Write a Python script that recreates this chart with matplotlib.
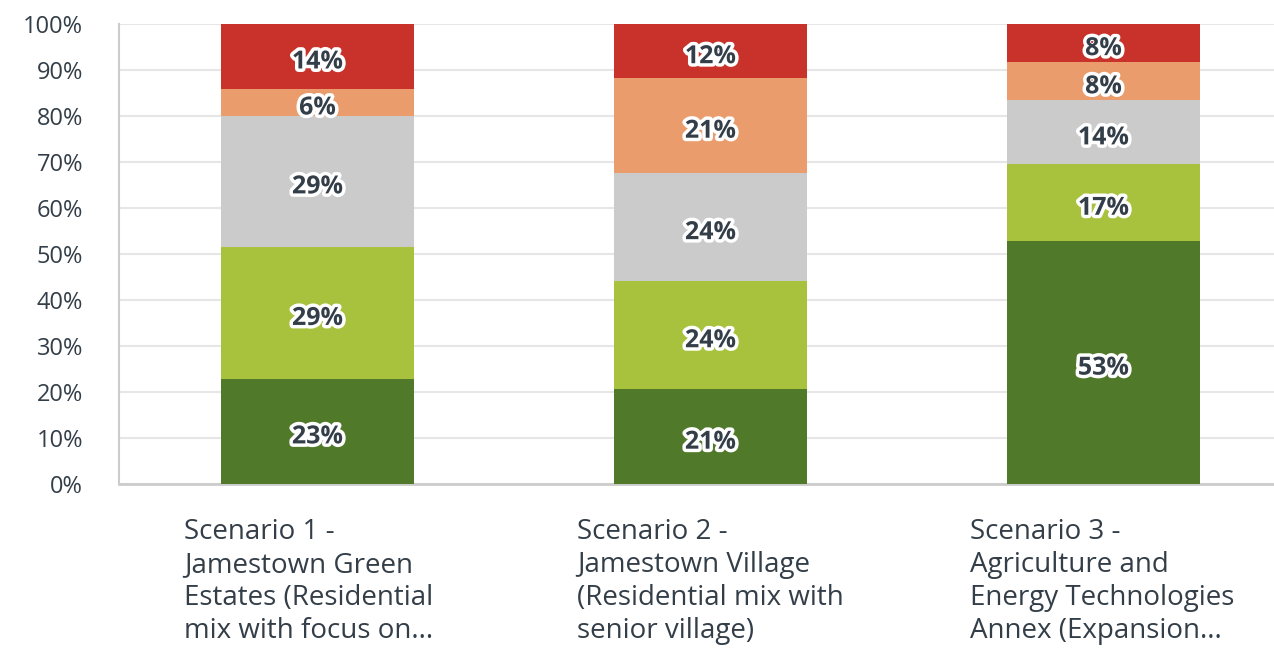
import numpy as np
import matplotlib.pyplot as plt
import matplotlib.patheffects as pe

# share of answers per scenario (bottom -> top segment), in %
scenarios = ['Scenario 1 -\nJamestown Green\nEstates (Residential\nmix with focus on...',
             'Scenario 2 -\nJamestown Village\n(Residential mix with\nsenior village)',
             'Scenario 3 -\nAgriculture and\nEnergy Technologies\nAnnex (Expansion...']
dark_green = [22.9, 20.6, 52.8]
light_green = [28.6, 23.5, 16.7]
grey = [28.6, 23.5, 13.9]
orange = [5.7, 20.6, 8.3]
red = [14.3, 11.8, 8.3]
labels = [['23%', '29%', '29%', '6%', '14%'],
          ['21%', '24%', '24%', '21%', '12%'],
          ['53%', '17%', '14%', '8%', '8%']]

series = [dark_green, light_green, grey, orange, red]
colors = ['#507a2a', '#a8c23d', '#cbcbcb', '#ea9c6c', '#c8322b']
txt = '#333e48'

fig = plt.figure(figsize=(12.74, 6.48), dpi=100)
ax = fig.add_axes([0.0934, 0.253, 0.9066, 0.7099])

x = np.arange(len(scenarios))
bottom = np.zeros(len(scenarios))
for i, (vals, c) in enumerate(zip(series, colors)):
    vals = np.array(vals)
    ax.bar(x, vals, 0.49, bottom=bottom, color=c, zorder=3)
    for j in range(len(x)):
        ax.text(x[j], bottom[j] + vals[j] / 2 - 1.2, labels[j][i], ha='center', va='center',
                fontsize=18, fontweight='bold', color=txt, family='Open Sans', zorder=5,
                path_effects=[pe.withStroke(linewidth=5, foreground='white')])
    bottom += vals

ax.set_xlim(-0.505, 2.434)
ax.set_ylim(0, 100)
ax.set_yticks(np.arange(0, 101, 10))
ax.set_yticklabels(['{}%'.format(v) for v in range(0, 101, 10)], family='Open Sans',
                   fontsize=17, color=txt)
ax.tick_params(axis='y', length=0, pad=26)
ax.set_xticks([])
ax.grid(axis='y', color='#e6e6e6', linewidth=1.5, zorder=0)

for j, s in enumerate(scenarios):
    ax.text(x[j] - 0.34, -7.3, s, ha='left', va='top', fontsize=20, color=txt,
            family='Open Sans', linespacing=1.25)

for s in ['top', 'right']:
    ax.spines[s].set_visible(False)
ax.spines['left'].set_color('#cccccc')
ax.spines['left'].set_linewidth(1.5)
ax.spines['bottom'].set_color('#cccccc')
ax.spines['bottom'].set_linewidth(2)

fig.savefig('out.png', dpi=100)
